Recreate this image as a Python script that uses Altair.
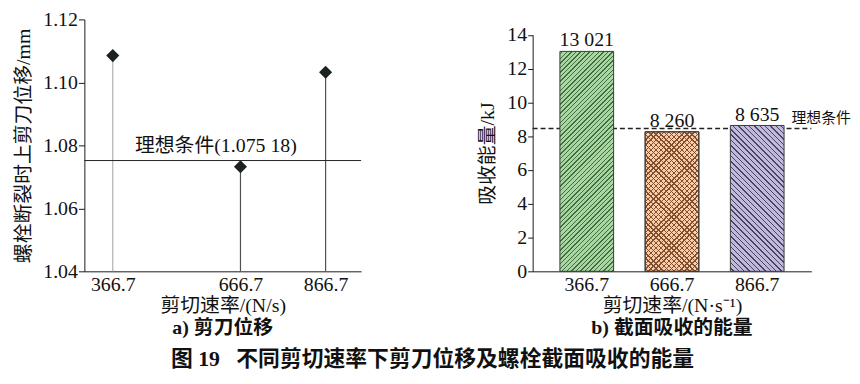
import altair as alt
import pandas as pd

# ---------------- data ----------------
rates = ["366.7", "666.7", "866.7"]
rate_values = [366.7, 666.7, 866.7]
displacement = [1.1085, 1.0732, 1.1032]
ideal_disp = [1.07518]
ideal_disp_label = ["理想条件(1.075 18)"]
left_y_ticks = [1.04, 1.06, 1.08, 1.10, 1.12]

energy_kj = [13.021, 8.260, 8.635]
energy_labels = ["13 021", "8 260", "8 635"]
ideal_energy = [8.45]
ideal_energy_label = ["理想条件"]
right_y_ticks = [0, 2, 4, 6, 8, 10, 12, 14]

# ---------------- styles ----------------
SERIF = "Liberation Serif, Noto Sans CJK SC"
LW, LH = 279, 254
RW, RH = 281, 254
PX_PER_KJ = 17.03
R_TOP = RH - 14 * PX_PER_KJ
P_IN, P_OUT = 0.37, 0.32
STEP = RW / (3 - P_IN + 2 * P_OUT)
BW = STEP * (1 - P_IN)


def hatch(w, h, spacing, lw, bg, fg, flip=False):
    c = (w + h) / (w * w + h * h)
    a, b = c * w, c * h
    if flip:
        x1, y1, x2, y2 = 0, 1, a, 1 - b
    else:
        x1, y1, x2, y2 = 0, 0, a, b
    tot = w + h
    dt = spacing / tot
    dl = lw / tot
    stops = [alt.GradientStop(offset=0, color=bg)]
    t = dt / 2
    while t + dl < 1:
        for off, col in ((t, bg), (t, fg), (t + dl, fg), (t + dl, bg)):
            stops.append(alt.GradientStop(offset=round(off, 5), color=col))
        t += dt
    stops.append(alt.GradientStop(offset=1, color=bg))
    return alt.LinearGradient(gradient="linear", stops=stops,
                              x1=x1, y1=y1, x2=round(x2, 5), y2=round(y2, 5))


# ---------------- left panel ----------------
df_l = pd.DataFrame({"rate": rate_values, "rate_label": rates, "disp": displacement})
df_lideal = pd.DataFrame({"disp": ideal_disp, "label": ideal_disp_label})

xl = alt.X("rate:Q",
           scale=alt.Scale(domain=[300, 950], nice=False, zero=False),
           axis=alt.Axis(values=rate_values, format=".1f", ticks=False, grid=False,
                         labelPadding=3, title="剪切速率/(N/s)", titlePadding=2,
                         labelFlush=False))
yl = alt.Y("disp:Q",
           scale=alt.Scale(domain=[1.04, 1.12], nice=False, zero=False),
           axis=alt.Axis(values=left_y_ticks, format=".2f", tickSize=6, grid=False,
                         labelPadding=1, title="螺栓断裂时上剪刀位移/mm", titlePadding=9))

stems = alt.Chart(df_l).mark_rule(strokeWidth=1.2).encode(
    x=xl, y=yl, y2=alt.datum(1.04),
    color=alt.Color("rate_label:N",
                    scale=alt.Scale(domain=rates, range=["#b0b0b0", "#505050", "#505050"]),
                    legend=None))
points = alt.Chart(df_l).mark_point(shape="diamond", filled=True, size=175, opacity=1,
                                    color="#1c231f").encode(x=xl, y=yl)
hline = alt.Chart(df_lideal).mark_rule(color="#222222", strokeWidth=1).encode(
    y=yl, x=alt.value(0), x2=alt.value(LW))
htext = alt.Chart(df_lideal).mark_text(align="left", baseline="bottom", dy=-5,
                                       fontSize=20, font=SERIF, color="#111111").encode(
    y=yl, x=alt.value(51), text="label:N")

left = alt.layer(stems, hline, htext, points).properties(
    width=LW, height=LH,
    title=alt.TitleParams("a) 剪刀位移", orient="bottom", fontSize=20, fontWeight="bold",
                          font=SERIF, offset=2, color="#111111"))

# ---------------- right panel ----------------
df_r = pd.DataFrame({"rate": rates, "energy": energy_kj, "label": energy_labels})
df_rideal = pd.DataFrame({"energy": ideal_energy, "label": ideal_energy_label})

xr = alt.X("rate:N", sort=rates,
           scale=alt.Scale(paddingInner=P_IN, paddingOuter=P_OUT),
           axis=alt.Axis(labelAngle=0, ticks=False, labelPadding=3,
                         title="剪切速率/(N·s⁻¹)", titlePadding=2))
yr = alt.Y("energy:Q",
           scale=alt.Scale(domain=[0, 14], range=[RH, R_TOP], nice=False, zero=True),
           axis=alt.Axis(values=right_y_ticks, format="d", tickSize=5, grid=False,
                         labelPadding=1, title="吸收能量/kJ", titlePadding=9))

dash = alt.Chart(df_rideal).mark_rule(strokeDash=[5, 3], color="#222222", strokeWidth=1.5).encode(
    y=yr, x=alt.value(0), x2=alt.value(RW))

bar_styles = [
    # (bg, line colour, spacing, flip list)
    ("#a9d6a3", "#3f6e3f", 4.6, [False]),
    ("#fdcba4", "#7e4f31", 5.2, [False, True]),
    ("#c0b9db", "#4a4362", 5.4, [True]),
]

bar_layers = []
for r, val, (bg, fg, sp, flips) in zip(rates, energy_kj, bar_styles):
    h = val * PX_PER_KJ
    for k, fl in enumerate(flips):
        fill = hatch(BW, h, sp, 1.4, bg if k == 0 else "rgba(0,0,0,0)", fg, flip=fl)
        bar_layers.append(
            alt.Chart(df_r).transform_filter(alt.datum.rate == r)
            .mark_bar(fill=fill, stroke="#3a3a3a", strokeWidth=1)
            .encode(x=xr, y=yr))

labels = alt.Chart(df_r).mark_text(baseline="bottom", dy=-1, fontSize=20, font=SERIF,
                                   color="#111111").encode(x=xr, y=yr, text="label:N")
itext = alt.Chart(df_rideal).mark_text(align="left", baseline="bottom", dy=-3, fontSize=15,
                                       font=SERIF, color="#111111").encode(
    y=yr, x=alt.value(RW - 20), text="label:N")

right = alt.layer(dash, *bar_layers, labels, itext).properties(
    width=RW, height=RH,
    title=alt.TitleParams("b) 截面吸收的能量", orient="bottom", fontSize=20, fontWeight="bold",
                          font=SERIF, offset=2, color="#111111"))

chart = alt.hconcat(left, right, spacing=173, bounds="flush").properties(
    title=alt.TitleParams("图 19\u00a0\u00a0\u00a0不同剪切速率下剪刀位移及螺栓截面吸收的能量",
                          orient="bottom", fontSize=22, fontWeight="bold", font=SERIF,
                          offset=11, color="#111111", anchor="middle"),
    padding={"left": 5, "top": 0, "right": 0, "bottom": 0},
).configure_view(stroke=None).configure_axis(
    domainColor="#1a1a1a", tickColor="#1a1a1a", labelColor="#111111", titleColor="#111111",
    labelFont=SERIF, titleFont=SERIF, labelFontSize=20, titleFontSize=20,
    titleFontWeight="normal", domainWidth=1, tickWidth=1,
)

chart.save("out.html", embed_options={"renderer": "svg", "actions": False})
